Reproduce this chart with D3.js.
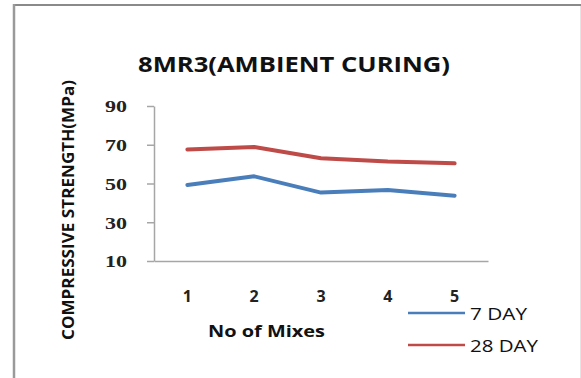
<!DOCTYPE html>
<html>
<head>
<meta charset="utf-8">
<script src="https://cdn.jsdelivr.net/npm/d3@7"></script>
<style>
  html, body { margin: 0; padding: 0; background: #fff; }
  svg { display: block; }
</style>
</head>
<body>
<svg id="chart" width="581" height="378"></svg>
<script>
// Compressive strength of the 8MR3 mixes under ambient curing
const mixes = ["1", "2", "3", "4", "5"];
const day7 = [49.2, 53.7, 45.3, 46.6, 43.7];
const day28 = [67.6, 68.8, 63.0, 61.3, 60.4];
const yTicks = [10, 30, 50, 70, 90];
const seriesNames = ["7 DAY", "28 DAY"];
const seriesColors = ["#4a7ebb", "#be4b48"];

const svg = d3.select("#chart");
const sans = "'Open Sans', 'DejaVu Sans', sans-serif";

// outer frame
svg.append("line").attr("x1", 14).attr("x2", 581).attr("y1", 5).attr("y2", 5)
  .attr("stroke", "#8a8a8a").attr("stroke-width", 2);
svg.append("line").attr("x1", 14).attr("x2", 14).attr("y1", 4).attr("y2", 378)
  .attr("stroke", "#9a9a9a").attr("stroke-width", 2.5);
svg.append("line").attr("x1", 580.5).attr("x2", 580.5).attr("y1", 6).attr("y2", 378)
  .attr("stroke", "#e4e4e4").attr("stroke-width", 1);

const x = d3.scaleBand().domain(mixes).range([154, 488]).padding(0);
const y = d3.scaleLinear().domain([10, 90]).range([261, 106]);

// y axis
const yAxis = svg.append("g").attr("transform", "translate(154,0)")
  .call(d3.axisLeft(y).tickValues(yTicks).tickSize(7).tickSizeOuter(0).tickPadding(20));
yAxis.select(".domain").attr("stroke", "#a6a6a6").attr("stroke-width", 1.5);
yAxis.selectAll(".tick line").attr("stroke", "#a6a6a6").attr("stroke-width", 1.5);
yAxis.selectAll(".tick text")
  .attr("dy", "0.36em")
  .attr("font-family", "'Liberation Serif', 'Times New Roman', serif")
  .attr("font-weight", "bold").attr("font-size", 16).attr("fill", "#222")
  .attr("textLength", 22).attr("lengthAdjust", "spacingAndGlyphs");

// x axis
const xAxis = svg.append("g").attr("transform", "translate(0,261)")
  .call(d3.axisBottom(x).tickSize(0).tickSizeOuter(0));
xAxis.select(".domain").attr("stroke", "#a6a6a6").attr("stroke-width", 1.5);
xAxis.selectAll(".tick text")
  .attr("y", 41).attr("dy", 0)
  .attr("font-family", sans).attr("font-weight", "bold")
  .attr("font-size", 16).attr("fill", "#222");

// series lines
const line = d3.line().x((d, i) => x(mixes[i]) + x.bandwidth() / 2).y(d => y(d));
[day7, day28].forEach((vals, k) => {
  svg.append("path").datum(vals)
    .attr("d", line).attr("fill", "none")
    .attr("stroke", seriesColors[k]).attr("stroke-width", 4)
    .attr("stroke-linejoin", "round").attr("stroke-linecap", "round");
});

// title
svg.append("text").attr("x", 294).attr("y", 72).attr("text-anchor", "middle")
  .attr("font-family", sans).attr("font-weight", "bold").attr("font-size", 21)
  .attr("fill", "#111").attr("textLength", 312).attr("lengthAdjust", "spacingAndGlyphs")
  .text("8MR3(AMBIENT CURING)");

// axis titles
svg.append("text").attr("x", 266.5).attr("y", 337).attr("text-anchor", "middle")
  .attr("font-family", sans).attr("font-weight", "bold").attr("font-size", 16)
  .attr("fill", "#111").attr("textLength", 117).attr("lengthAdjust", "spacingAndGlyphs")
  .text("No of Mixes");

svg.append("text").attr("transform", "translate(74,210) rotate(-90)")
  .attr("text-anchor", "middle")
  .attr("font-family", sans).attr("font-weight", "bold").attr("font-size", 16)
  .attr("fill", "#111").attr("textLength", 260).attr("lengthAdjust", "spacingAndGlyphs")
  .text("COMPRESSIVE STRENGTH(MPa)");

// legend
const legendY = [313, 345];
const legendW = [57, 68];
seriesNames.forEach((name, k) => {
  svg.append("line").attr("x1", 408).attr("x2", 465)
    .attr("y1", legendY[k]).attr("y2", legendY[k])
    .attr("stroke", seriesColors[k]).attr("stroke-width", 2.5);
  svg.append("text").attr("x", 470).attr("y", legendY[k] + 6.5)
    .attr("font-family", sans).attr("font-size", 16).attr("fill", "#111")
    .attr("textLength", legendW[k]).attr("lengthAdjust", "spacingAndGlyphs")
    .text(name);
});
</script>
</body>
</html>
